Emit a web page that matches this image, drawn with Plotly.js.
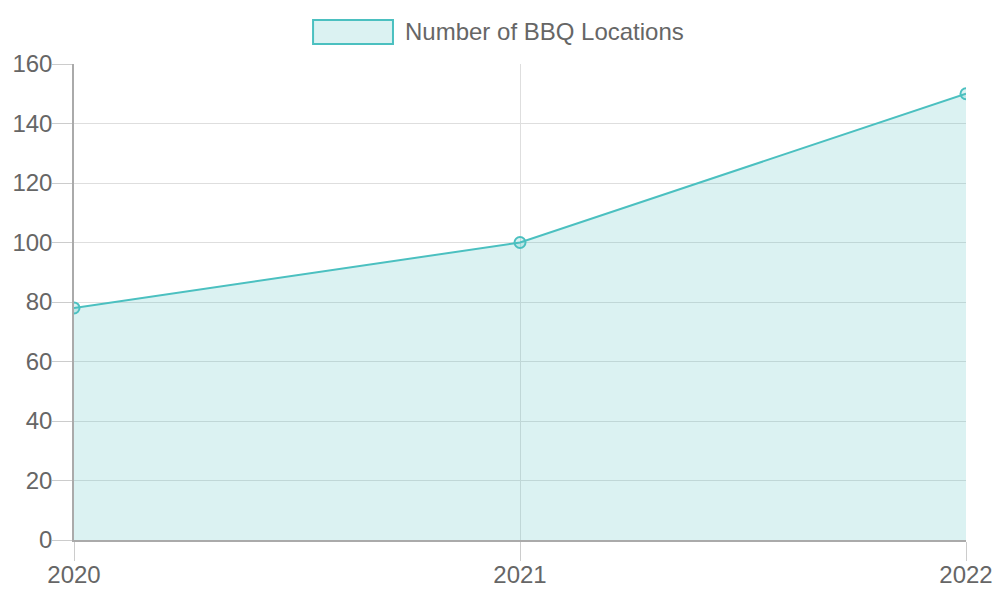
<!DOCTYPE html>
<html>
<head>
<meta charset="utf-8">
<script src="https://cdn.plot.ly/plotly-3.0.1.min.js"></script>
<style>
html,body{margin:0;padding:0;background:#fff;}
#chart{width:1000px;height:600px;}
</style>
</head>
<body>
<div id="chart"></div>
<script>
const years = ['2020', '2021', '2022'];
const bbqLocations = [78, 100, 150];
const seriesName = 'Number of BBQ Locations';
const yTicks = [0, 20, 40, 60, 80, 100, 120, 140, 160];

const teal = 'rgb(75,192,192)';
const tealFill = 'rgba(75,192,192,0.2)';
const textColor = '#666666';
const gridColor = '#dedede';

const trace = {
  x: years,
  y: bbqLocations,
  name: seriesName,
  type: 'scatter',
  mode: 'lines+markers',
  fill: 'tozeroy',
  fillcolor: tealFill,
  line: {color: teal, width: 2},
  marker: {size: 11, color: tealFill, line: {color: teal, width: 2}},
  showlegend: false,
  hoverinfo: 'x+y'
};

const layout = {
  width: 1000,
  height: 600,
  margin: {l: 74, r: 34, t: 64, b: 60},
  paper_bgcolor: '#ffffff',
  plot_bgcolor: '#ffffff',
  font: {family: '"Liberation Sans", Arial, sans-serif', size: 24, color: textColor},
  showlegend: false,
  xaxis: {
    type: 'category',
    range: [0, 2],
    tickvals: years,
    ticktext: years,
    showgrid: true,
    gridcolor: gridColor,
    gridwidth: 1,
    ticks: 'outside',
    ticklen: 19,
    tickcolor: '#cccccc',
    tickwidth: 1,
    showline: true,
    linecolor: '#aaaaaa',
    linewidth: 1.5,
    zeroline: false,
    tickfont: {size: 24, color: textColor},
    ticklabelstandoff: -7
  },
  yaxis: {
    range: [0, 160],
    tickvals: yTicks,
    showgrid: true,
    gridcolor: gridColor,
    gridwidth: 1,
    ticks: 'outside',
    ticklen: 20,
    tickcolor: '#cccccc',
    tickwidth: 1,
    showline: true,
    linecolor: '#aaaaaa',
    linewidth: 1.5,
    zeroline: false,
    tickfont: {size: 24, color: textColor},
    ticklabelstandoff: -5
  },
  shapes: [
    {
      type: 'rect', xref: 'paper', yref: 'paper',
      x0: 0.268, x1: 0.3576, y0: 1.042, y1: 1.0924,
      fillcolor: tealFill, line: {color: teal, width: 2}
    }
  ],
  annotations: [
    {
      xref: 'paper', yref: 'paper', x: 0.369, y: 1.069,
      xanchor: 'left', yanchor: 'middle', showarrow: false,
      text: seriesName,
      font: {size: 24, color: textColor}
    }
  ]
};

Plotly.newPlot('chart', [trace], layout, {displayModeBar: false, responsive: false});
</script>
</body>
</html>
